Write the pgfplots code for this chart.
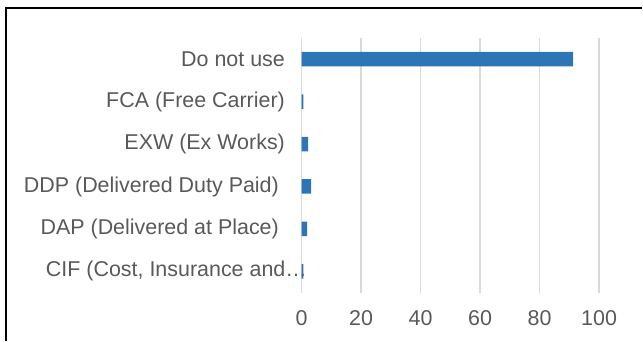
\documentclass[border=0pt]{standalone}
\usepackage{pgfplots}
\pgfplotsset{compat=1.18}
\usepackage{fontspec}
\setmainfont{Liberation Sans}
\definecolor{txt}{HTML}{595959}
\definecolor{barc}{HTML}{2E75B6}
\definecolor{gridc}{HTML}{D9D9D9}
\begin{document}
\begin{tikzpicture}[x=0.75pt,y=0.75pt]
\path (0,0) rectangle (643,342);
\draw[line width=1.5pt,black] (6,0) -- (6,334) -- (643,334);
\begin{axis}[
  at={(226.5pt,36.75pt)}, anchor=south west,
  scale only axis, width=223.5pt, height=191.25pt,
  xbar, bar width=10.9pt,
  xmin=0, xmax=100, ymin=-0.5, ymax=5.5,
  xtick={0,20,40,60,80,100},
  ytick={0,1,2,3,4,5},
  yticklabels={{CIF (Cost, Insurance and\ldots\kern-16.5pt},{DAP (Delivered at Place)\kern4.5pt},{DDP (Delivered Duty Paid)\kern4.5pt},{EXW (Ex Works)},{FCA (Free Carrier)},{Do not use}},
  axis line style={draw=none},
  major tick length=0pt,
  xmajorgrids=true, ymajorgrids=false,
  major grid style={draw=gridc, line width=1.1pt},
  /pgf/number format/assume math mode=true,
  tick label style={font=\fontsize{16.1}{18}\selectfont, text=txt},
  xticklabel style={yshift=-10pt},
  yticklabel style={xshift=-9pt},
]
\addplot[fill=barc, draw=none] coordinates {(0.6,0) (1.9,1) (3.2,2) (2.2,3) (0.6,4) (91.3,5)};
\end{axis}
\end{tikzpicture}
\end{document}
